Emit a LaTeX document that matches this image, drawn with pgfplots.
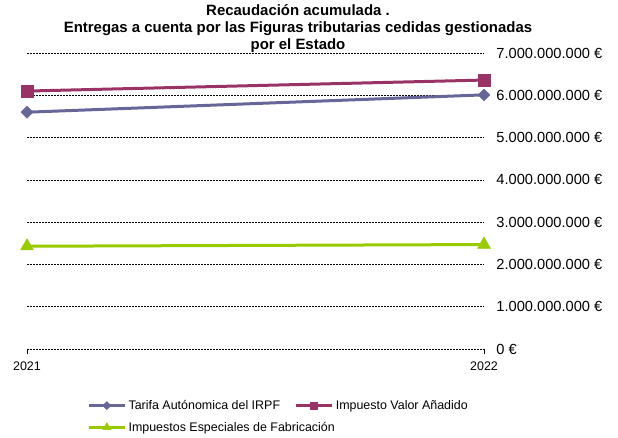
\documentclass[border=0pt]{standalone}
\usepackage{pgfplots}
\pgfplotsset{compat=1.18}
\usepackage{fontspec}
\setmainfont{Liberation Sans}
\definecolor{irpf}{RGB}{102,102,153}
\definecolor{iva}{RGB}{153,51,102}
\definecolor{iee}{RGB}{153,204,0}
\begin{document}
\begin{tikzpicture}
\begin{axis}[
  at={(27bp,89bp)}, anchor=south west, scale only axis,
  width=457bp, height=296bp,
  xmin=2021, xmax=2022, ymin=0, ymax=7000000000,
  clip=false, scaled y ticks=false, scaled x ticks=false,
  axis line style={draw=none},
  xtick={2021,2022}, xticklabels={2021,2022}, xtick pos=bottom,
  tick align=outside, major tick length=5bp,
  x tick style={black, line width=0.6bp},
  x tick label style={font=\fontsize{12.5}{14}\selectfont, yshift=-4bp},
  ytick={0,1000000000,2000000000,3000000000,4000000000,5000000000,6000000000,7000000000},
  yticklabels={0 €,1.000.000.000 €,2.000.000.000 €,3.000.000.000 €,4.000.000.000 €,5.000.000.000 €,6.000.000.000 €,7.000.000.000 €},
  yticklabel pos=right, y tick style={draw=none},
  y tick label style={font=\fontsize{14.7}{16}\selectfont, anchor=west, xshift=4bp},
  ymajorgrids, grid style={black, dash pattern=on 1.5bp off 1.5bp, line width=0.6bp},
  legend image code/.code={\draw[#1,mark repeat=2,mark phase=2] plot coordinates {(0bp,0bp) (18bp,0bp) (36bp,0bp)};},
  legend style={draw=none, fill=none, font=\fontsize{12.5}{14}\selectfont, at={(axis description cs:0.131,-0.166)}, anchor=north west, inner sep=0pt, row sep=7bp, legend cell align=left},
  legend columns=1,
]
\addplot[irpf, line width=3bp, mark=diamond*, mark size=6bp, mark options={solid, line width=0.5bp, xscale=1.33}, forget plot] coordinates {(2021,5600000000) (2022,6010000000)};
\addplot[iee, line width=3bp, mark=triangle*, mark size=7.5bp, mark options={solid, line width=0.5bp}, forget plot] coordinates {(2021,2430000000) (2022,2470000000)};
\addplot[iva, line width=3bp, mark=square*, mark size=6bp, mark options={solid, line width=0.5bp}, forget plot] coordinates {(2021,6100000000) (2022,6360000000)};
\addlegendimage{irpf, line width=3.5bp, mark=diamond*, mark size=4bp, mark options={solid, line width=0.5bp, xscale=1.33}}
\addlegendentry{Tarifa Autónomica del IRPF}
\addlegendimage{iee, line width=3.5bp, mark=triangle*, mark size=4.5bp, mark options={solid, line width=0.5bp}}
\addlegendentry{Impuestos Especiales de Fabricación}
\end{axis}
\begin{axis}[
  at={(27bp,89bp)}, anchor=south west, scale only axis,
  width=457bp, height=296bp, hide axis,
  xmin=0, xmax=1, ymin=0, ymax=1,
  legend image code/.code={\draw[#1,mark repeat=2,mark phase=2] plot coordinates {(0bp,0bp) (18bp,0bp) (36bp,0bp)};},
  legend style={draw=none, fill=none, font=\fontsize{12.5}{14}\selectfont, at={(axis description cs:0.5845,-0.166)}, anchor=north west, inner sep=0pt, legend cell align=left},
]
\addlegendimage{iva, line width=3.5bp, mark=square*, mark size=3.5bp, mark options={solid, line width=0.5bp}}
\addlegendentry{Impuesto Valor Añadido}
\end{axis}
\node[font=\bfseries\fontsize{15}{17}\selectfont, align=center] at (298bp,409bp)
  {Recaudación acumulada .\\Entregas a cuenta por las Figuras tributarias cedidas gestionadas\\por el Estado};
\pgfresetboundingbox
\path[use as bounding box] (0,0) rectangle (618bp,438bp);
\end{tikzpicture}
\end{document}
